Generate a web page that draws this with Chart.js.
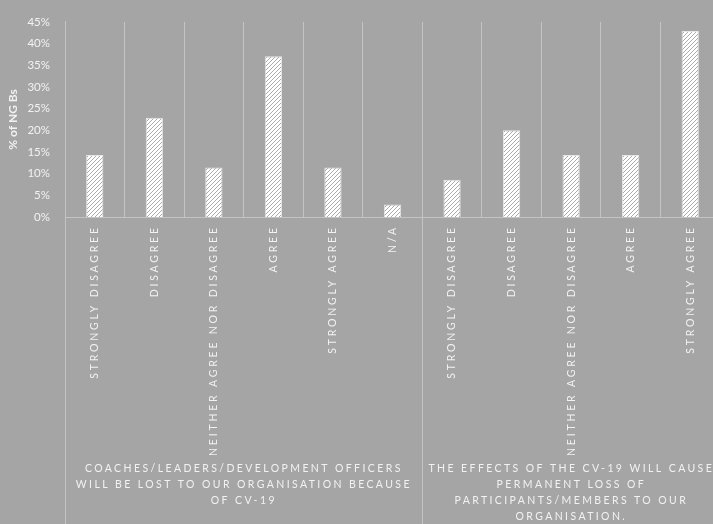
<!DOCTYPE html>
<html>
<head>
<meta charset="utf-8">
<script src="https://cdn.jsdelivr.net/npm/chart.js@4"></script>
<style>
	html, body { margin: 0; padding: 0; background: #a5a5a5; overflow: hidden; }
	#wrap { width: 720px; height: 524px; }
</style>
</head>
<body>
<div id="wrap"><canvas id="surveyChart"></canvas></div>
<script>
// categories, grouped under two statements
const answers = [
	"STRONGLY DISAGREE", "DISAGREE", "NEITHER AGREE NOR DISAGREE", "AGREE", "STRONGLY AGREE", "N/A",
	"STRONGLY DISAGREE", "DISAGREE", "NEITHER AGREE NOR DISAGREE", "AGREE", "STRONGLY AGREE"
];
const groupLabels = [
	["COACHES/LEADERS/DEVELOPMENT OFFICERS", "WILL BE LOST TO OUR ORGANISATION BECAUSE", "OF CV-19"],
	["THE EFFECTS OF THE CV-19 WILL CAUSE", "PERMANENT LOSS OF", "PARTICIPANTS/MEMBERS TO OUR", "ORGANISATION."]
];
const groupSizes = [6, 5];
// % of NGBs
const shares = [14.3, 22.9, 11.4, 37.1, 11.4, 2.9, 8.6, 20.0, 14.3, 14.3, 42.9];
const yTicks = [0, 5, 10, 15, 20, 25, 30, 35, 40, 45];

const textColor = "#f2f2f2";
const lineColor = "#c4c4c4";
const spacing = 2.8;
const captionSpacing = 2.4;

function hatch() {
	const c = document.createElement("canvas");
	c.width = 4;
	c.height = 4;
	const g = c.getContext("2d");
	g.fillStyle = "#ffffff";
	g.fillRect(0, 0, 4, 4);
	g.strokeStyle = "#ababab";
	g.lineWidth = 1;
	g.beginPath();
	g.moveTo(0, 4);
	g.lineTo(4, 0);
	g.moveTo(-1, 1);
	g.lineTo(1, -1);
	g.moveTo(3, 5);
	g.lineTo(5, 3);
	g.stroke();
	return g.createPattern(c, "repeat");
}

// draws the spaced-out category labels, group captions and group separators
const axisLabels = {
	id: "axisLabels",
	afterDraw(chart) {
		const ctx = chart.ctx;
		const x = chart.scales.x;
		const area = chart.chartArea;
		ctx.save();
		ctx.fillStyle = textColor;
		ctx.font = "10.5px Lato";
		ctx.letterSpacing = spacing + "px";

		answers.forEach(function (label, i) {
			ctx.save();
			ctx.translate(x.getPixelForValue(i), 228);
			ctx.rotate(-Math.PI / 2);
			ctx.textAlign = "right";
			ctx.textBaseline = "middle";
			ctx.fillText(label, spacing, 0);
			ctx.restore();
		});

		// separators
		const step = x.getPixelForValue(1) - x.getPixelForValue(0);
		ctx.strokeStyle = lineColor;
		ctx.lineWidth = 1;
		let start = 0;
		const edges = [area.left];
		groupSizes.forEach(function (n) {
			start += n;
			edges.push(x.getPixelForValue(start - 1) + step / 2);
		});
		ctx.beginPath();
		edges.slice(0, -1).forEach(function (e) {
			ctx.moveTo(Math.round(e) + 0.5, area.top);
			ctx.lineTo(Math.round(e) + 0.5, chart.height);
		});
		ctx.stroke();

		// group captions
		ctx.letterSpacing = captionSpacing + "px";
		ctx.textAlign = "center";
		ctx.textBaseline = "middle";
		groupLabels.forEach(function (lines, g) {
			const cx = (edges[g] + edges[g + 1]) / 2 + captionSpacing / 2 - 1;
			lines.forEach(function (line, k) {
				ctx.fillText(line, cx, 469 + k * 16);
			});
		});
		ctx.restore();
	}
};

new Chart(document.getElementById("surveyChart"), {
	type: "bar",
	data: {
		labels: answers,
		datasets: [{
			label: "% of NGBs",
			data: shares,
			backgroundColor: hatch(),
			borderColor: "#e6e6e6",
			borderWidth: 1,
			barPercentage: 0.29,
			categoryPercentage: 1
		}]
	},
	options: {
		responsive: true,
		maintainAspectRatio: false,
		animation: false,
		layout: { padding: { top: 18, right: 0, left: 0, bottom: 0 } },
		plugins: { legend: { display: false }, tooltip: { enabled: false } },
		scales: {
			x: {
				afterFit: function (s) { s.height = 307; },
				ticks: { display: false },
				grid: { color: lineColor, drawTicks: false, offset: true },
				border: { color: lineColor }
			},
			y: {
				min: 0,
				max: 45,
				afterFit: function (s) { s.width = 65; },
				afterBuildTicks: function (s) { s.ticks = yTicks.map(v => ({ value: v })); },
				ticks: {
					color: textColor,
					font: { family: "Lato", size: 11.5 },
					padding: 15,
					callback: v => v + "%"
				},
				grid: { display: false, drawTicks: false },
				border: { color: lineColor },
				title: {
					display: true,
					text: "% of NG Bs",
					color: textColor,
					font: { family: "Lato", size: 12, weight: "bold" },
					padding: { top: 6, bottom: 0 }
				}
			}
		}
	},
	plugins: [axisLabels]
});
</script>
</body>
</html>
